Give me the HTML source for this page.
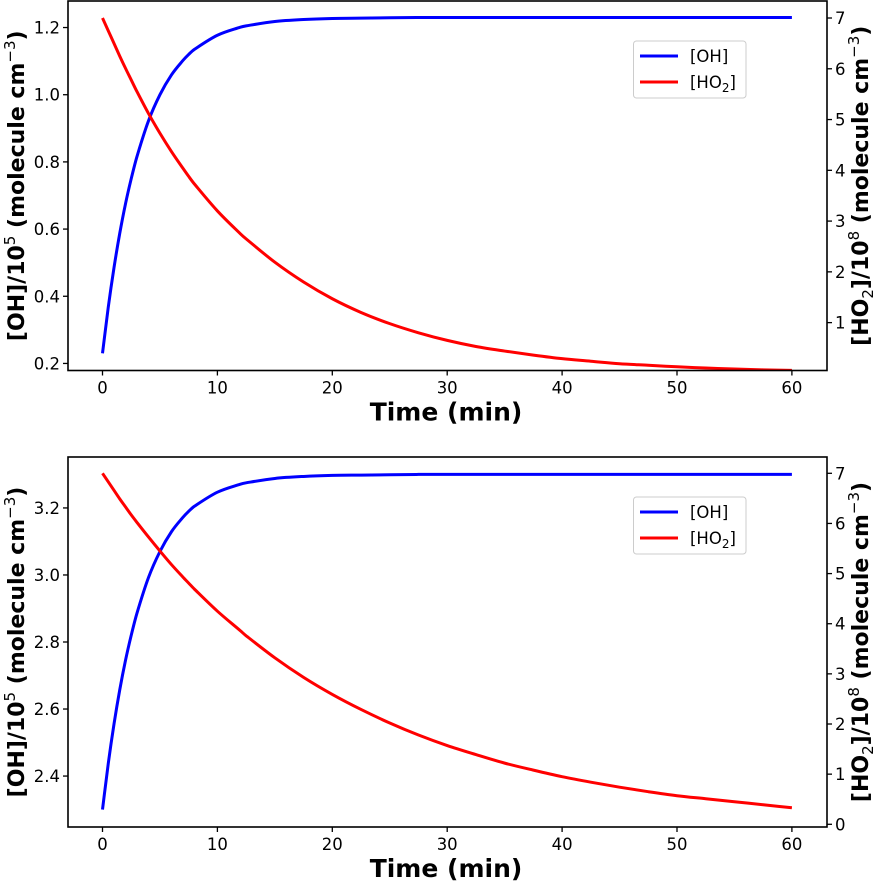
<!DOCTYPE html>
<html><head><meta charset="utf-8"><style>
html,body{margin:0;padding:0;background:#fff}
svg text{font-family:"DejaVu Sans","Liberation Sans",sans-serif}
</style></head><body>
<svg id="chart" width="873" height="881" xmlns="http://www.w3.org/2000/svg"></svg>
<script>
// shared time axis values
const times = [0,0.5,1,1.5,2,2.5,3,4,5,6,7,7.5,8,10,12,12.5,15,17.5,20,22.5,25,27.5,30,32.5,35,37.5,40,42.5,45,47.5,50,52.5,55,57.5,60];
const xTicks = [0,10,20,30,40,50,60];
// panel 1 data
const oh1 = [0.23,0.367,0.485,0.587,0.675,0.75,0.816,0.922,1.0,1.059,1.102,1.12,1.135,1.177,1.201,1.205,1.218,1.224,1.227,1.228,1.229,1.23,1.23,1.23,1.23,1.23,1.23,1.23,1.23,1.23,1.23,1.23,1.23,1.23,1.23];
const ho2_1 = [7,6.75,6.5,6.25,6.01,5.78,5.55,5.12,4.73,4.37,4.04,3.88,3.73,3.2,2.75,2.65,2.19,1.8,1.47,1.2,0.98,0.8,0.65,0.53,0.44,0.36,0.29,0.24,0.19,0.16,0.13,0.105,0.086,0.07,0.06];
const leftTicks1 = [0.2,0.4,0.6,0.8,1.0,1.2];
const rightTicks1 = [1,2,3,4,5,6,7];
// panel 2 data
const oh2 = [2.3,2.437,2.555,2.657,2.745,2.82,2.886,2.992,3.07,3.129,3.172,3.19,3.205,3.247,3.271,3.275,3.288,3.294,3.297,3.298,3.299,3.3,3.3,3.3,3.3,3.3,3.3,3.3,3.3,3.3,3.3,3.3,3.3,3.3,3.3];
const ho2_2 = [7,6.83,6.66,6.49,6.33,6.17,6.02,5.73,5.45,5.18,4.93,4.81,4.69,4.25,3.86,3.76,3.32,2.93,2.59,2.29,2.02,1.78,1.57,1.39,1.22,1.08,0.95,0.84,0.74,0.65,0.57,0.51,0.45,0.39,0.33];
const leftTicks2 = [2.4,2.6,2.8,3.0,3.2];
const rightTicks2 = [0,1,2,3,4,5,6,7];

const NS="http://www.w3.org/2000/svg";
const svg=document.getElementById('chart');
function mk(tag,attrs,parent){const e=document.createElementNS(NS,tag);for(const k in attrs)e.setAttribute(k,attrs[k]);(parent||svg).appendChild(e);return e;}
const L=68,R=827;
const xS=v=>102.5+v*11.49;

function smooth(pts){
  const n=pts.length,m=[];
  for(let i=0;i<n;i++){
    const a=pts[Math.max(0,i-1)],b=pts[Math.min(n-1,i+1)];
    m.push((b[1]-a[1])/(b[0]-a[0]));
  }
  let d='M'+pts[0][0].toFixed(2)+','+pts[0][1].toFixed(2);
  for(let i=0;i<n-1;i++){
    const p1=pts[i],p2=pts[i+1],h=(p2[0]-p1[0])/3;
    d+='C'+(p1[0]+h).toFixed(2)+','+(p1[1]+m[i]*h).toFixed(2)+' '+(p2[0]-h).toFixed(2)+','+(p2[1]-m[i+1]*h).toFixed(2)+' '+p2[0].toFixed(2)+','+p2[1].toFixed(2);
  }
  return d;
}

function panel(p){
  const g=mk('g',{});
  
  
  const yL=v=>p.top+(p.lMax-v)/(p.lMax-p.lMin)*(p.bot-p.top);
  const yR=v=>p.top+(p.rMax-v)/(p.rMax-p.rMin)*(p.bot-p.top);
  const clip='clip'+p.idx;
  const cp=mk('clipPath',{id:clip},g);mk('rect',{x:L,y:p.top,width:R-L,height:p.bot-p.top},cp);
  const d1=smooth(times.map((t,i)=>[xS(t),yL(p.oh[i])]));
  const l1=mk('path',{d:d1,fill:'none',stroke:'#0000ff','stroke-width':3,'clip-path':'url(#'+clip+')'},g);
  
  
  const d2=smooth(times.map((t,i)=>[xS(t),yR(p.ho2[i])]));
  const l2=mk('path',{d:d2,fill:'none',stroke:'#ff0000','stroke-width':3,'clip-path':'url(#'+clip+')'},g);
  
  
  mk('rect',{x:L,y:p.top,width:R-L,height:p.bot-p.top,fill:'none',stroke:'#000','stroke-width':1.6},g);
  xTicks.forEach(v=>{const x=xS(v);mk('line',{x1:x,x2:x,y1:p.bot,y2:p.bot+5,stroke:'#000','stroke-width':1.3},g);
    const t=mk('text',{x:x,y:p.bot+23,'text-anchor':'middle','font-size':16.5},g);t.textContent=v;
    
    });
  p.lt.forEach(v=>{const y=yL(v);mk('line',{x1:L-5,x2:L,y1:y,y2:y,stroke:'#000','stroke-width':1.3},g);
    const t=mk('text',{x:L-8,y:y+6,'text-anchor':'end','font-size':16.5},g);t.textContent=v.toFixed(1);
    
    });
  p.rt.forEach(v=>{const y=yR(v);mk('line',{x1:R,x2:R+5,y1:y,y2:y,stroke:'#000','stroke-width':1.3},g);
    const t=mk('text',{x:R+8,y:y+6,'text-anchor':'start','font-size':16.5},g);t.textContent=v;
    
    });
  const xt=mk('text',{x:446,y:p.bot+50,'text-anchor':'middle','font-size':25,'font-weight':'bold'},g);xt.textContent='Time (min)';
  
  
  const mid=(p.top+p.bot)/2;
  const yt=mk('text',{transform:'translate(24,'+mid+') rotate(-90)','text-anchor':'middle','font-size':22,'font-weight':'bold'},g);
  yt.innerHTML='[OH]/10<tspan dy="-9" font-size="15" font-weight="normal">5</tspan><tspan dy="9"> (molecule cm</tspan><tspan dy="-9" font-size="15" font-weight="normal">−3</tspan><tspan dy="9">)</tspan>';
  
  
  const yt2=mk('text',{transform:'translate(868,'+mid+') rotate(-90)','text-anchor':'middle','font-size':22,'font-weight':'bold'},g);
  yt2.innerHTML='[HO<tspan dy="5" font-size="15" font-weight="normal">2</tspan><tspan dy="-5">]/10</tspan><tspan dy="-9" font-size="15" font-weight="normal">8</tspan><tspan dy="9"> (molecule cm</tspan><tspan dy="-9" font-size="15" font-weight="normal">−3</tspan><tspan dy="9">)</tspan>';
  
  
  const lg=mk('g',{},g);
  
  
  const ly=p.top+p.legOff;
  mk('rect',{x:633.5,y:ly,width:112.5,height:57,rx:3,fill:'#fff',stroke:'#ccc','stroke-width':1},lg);
  mk('line',{x1:640,x2:678,y1:ly+15,y2:ly+15,stroke:'#0000ff','stroke-width':3},lg);
  mk('line',{x1:640,x2:678,y1:ly+41,y2:ly+41,stroke:'#ff0000','stroke-width':3},lg);
  const a=mk('text',{x:690,y:ly+21,'font-size':16.5},lg);a.textContent='[OH]';
  
  
  const b=mk('text',{x:690,y:ly+47,'font-size':16.5},lg);b.innerHTML='[HO<tspan dy="4" font-size="12">2</tspan><tspan dy="-4">]</tspan>';
  
  
}
panel({idx:1,name:'top-panel',top:1,bot:370.5,lMin:0.179,lMax:1.279,rMin:0.057,rMax:7.335,oh:oh1,ho2:ho2_1,lt:leftTicks1,rt:rightTicks1,legOff:40});
panel({idx:2,name:'bottom-panel',top:457,bot:827,lMin:2.248,lMax:3.352,rMin:-0.054,rMax:7.325,oh:oh2,ho2:ho2_2,lt:leftTicks2,rt:rightTicks2,legOff:40});
</script>
</body></html>
